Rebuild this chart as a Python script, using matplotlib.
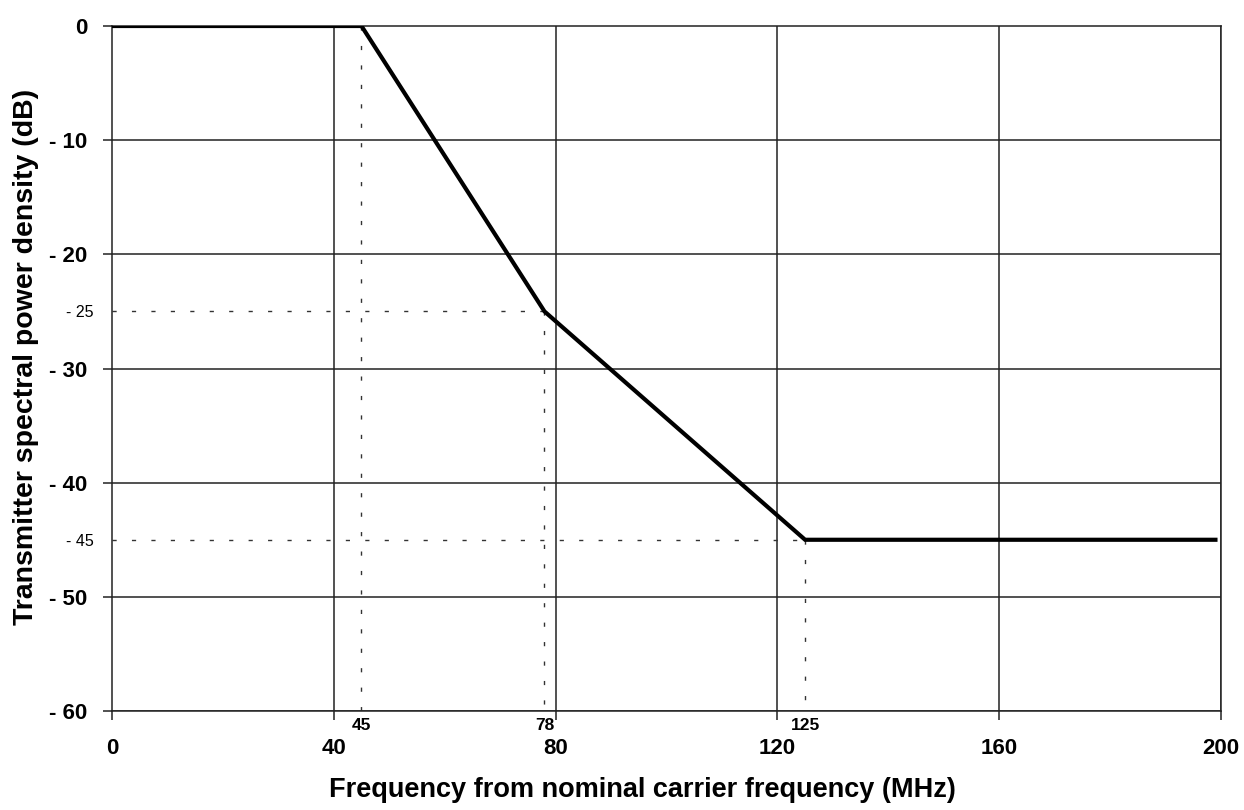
import matplotlib
matplotlib.use("Agg")
import matplotlib.pyplot as plt

plt.rcParams['font.family'] = ['Liberation Sans', 'DejaVu Sans']

# spectrum mask corners (MHz, dB)
freq = [0, 45, 78, 125, 199]
level = [0, 0, -25, -45, -45]

x_major = [0, 40, 80, 120, 160, 200]
y_major = [0, -10, -20, -30, -40, -50, -60]
y_major_labels = ["0", "- 10", "- 20", "- 30", "- 40", "- 50", "- 60"]
x_minor = [45, 78, 125]
y_minor = [-25, -45]
y_minor_labels = ["- 25", "- 45"]

fig = plt.figure(figsize=(12.44, 8.10), dpi=100)
ax = fig.add_axes([0.0900, 0.1222, 0.8915, 0.8457])

ax.set_xlim(0, 200)
ax.set_ylim(-60, 0)

# grid
for xv in x_major[1:]:
    ax.axvline(xv, color='#222222', lw=1.1, zorder=1)
for yv in y_major[1:]:
    ax.axhline(yv, color='#222222', lw=1.1, zorder=1)

# dotted reference lines at the corner points
dot = (0, (3, 11))
ax.plot([45, 45], [0, -60], color='#333333', lw=1, ls=dot, zorder=2)
for f, l in zip(freq[2:4], level[2:4]):
    ax.plot([0, f], [l, l], color='#333333', lw=1, ls=dot, zorder=2)
    ax.plot([f, f], [l, -60], color='#333333', lw=1, ls=dot, zorder=2)

ax.plot(freq, level, color='black', lw=3, solid_joinstyle='miter', zorder=3)

for s in ax.spines.values():
    s.set_color('#222222')
    s.set_linewidth(1.1)

ax.set_xticks(x_major)
ax.set_xticklabels([str(v) for v in x_major])
ax.set_yticks(y_major)
ax.set_yticklabels(y_major_labels)
ax.set_xticks(x_minor, minor=True)
ax.set_xticklabels([str(v) for v in x_minor], minor=True)
ax.set_yticks(y_minor, minor=True)
ax.set_yticklabels(y_minor_labels, minor=True)

ax.tick_params(which='major', direction='out', length=6.5, width=1.1,
               color='#222222', labelsize=16)
ax.tick_params(axis='x', which='major', pad=13)
ax.tick_params(axis='y', which='major', pad=11)
ax.tick_params(which='minor', length=0)
ax.tick_params(axis='x', which='minor', pad=5, labelsize=12.5)
ax.tick_params(axis='y', which='minor', pad=13, labelsize=11.5)
for t in ax.get_xticklabels() + ax.get_yticklabels():
    t.set_fontweight('bold')
for t in ax.get_xticklabels(minor=True):
    t.set_fontweight('bold')

fig.text(0.5165, 0.016, "Frequency from nominal carrier frequency (MHz)",
         ha='center', va='baseline', fontsize=19.5, fontweight='bold')
fig.text(0.021, 0.5599, "Transmitter spectral power density (dB)",
         ha='center', va='center', rotation=90, fontsize=20.5, fontweight='bold')

fig.savefig("out.png", dpi=100)
